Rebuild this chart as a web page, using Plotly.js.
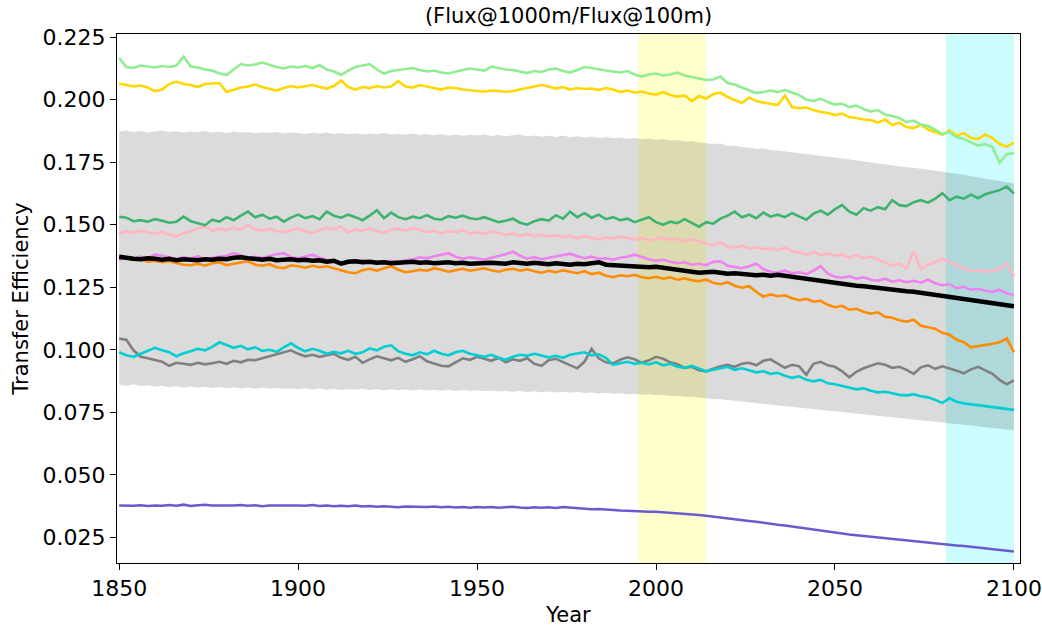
<!DOCTYPE html>
<html>
<head>
<meta charset="utf-8">
<script src="https://cdn.plot.ly/plotly-3.0.1.min.js"></script>
<style>html,body{margin:0;padding:0;background:#fff;}#chart{width:1042px;height:627px;}</style>
</head>
<body>
<div id="chart"></div>
<script>
// x axis: every second year from 1850 to 2100
const years = [];
for (let y = 1850; y <= 2100; y += 2) years.push(y);

// highlighted periods
const presentPeriod = [1995, 2014];
const futurePeriod = [2081, 2100];

// ensemble spread (lower / upper edge)
const spreadLow = [
.0860,.0856,.0862,.0855,.0858,.0852,.0856,.0850,.0854,.0849,
.0853,.0848,.0852,.0847,.0851,.0846,.0850,.0845,.0849,.0844,
.0848,.0844,.0847,.0843,.0846,.0842,.0846,.0841,.0845,.0840,
.0844,.0839,.0843,.0840,.0844,.0839,.0843,.0838,.0842,.0838,
.0842,.0837,.0841,.0837,.0840,.0836,.0840,.0835,.0839,.0835,
.0838,.0834,.0837,.0833,.0836,.0832,.0835,.0831,.0834,.0830,
.0833,.0829,.0832,.0828,.0831,.0827,.0829,.0825,.0828,.0824,
.0826,.0822,.0824,.0820,.0822,.0818,.0819,.0815,.0816,.0812,
.0812,.0808,.0807,.0803,.0802,.0798,.0796,.0793,.0790,.0787,
.0785,.0781,.0779,.0775,.0773,.0769,.0767,.0763,.0761,.0757,
.0755,.0752,.0750,.0746,.0744,.0740,.0738,.0734,.0732,.0728,
.0726,.0723,.0720,.0717,.0715,.0711,.0708,.0704,.0701,.0697,
.0694,.0690,.0687,.0684,.0681,.0678];
const spreadHigh = [
.1872,.1876,.1870,.1874,.1868,.1872,.1876,.1870,.1873,.1868,
.1872,.1869,.1874,.1868,.1871,.1866,.1872,.1868,.1870,.1865,
.1869,.1866,.1870,.1864,.1868,.1866,.1862,.1867,.1864,.1868,
.1862,.1866,.1861,.1865,.1860,.1864,.1861,.1866,.1860,.1863,
.1859,.1864,.1858,.1862,.1857,.1861,.1856,.1860,.1855,.1859,
.1856,.1860,.1854,.1858,.1853,.1857,.1860,.1852,.1856,.1851,
.1855,.1850,.1856,.1849,.1853,.1848,.1852,.1846,.1850,.1845,
.1848,.1843,.1846,.1841,.1844,.1839,.1842,.1836,.1838,.1832,
.1834,.1828,.1826,.1822,.1824,.1814,.1816,.1810,.1808,.1802,
.1804,.1798,.1796,.1792,.1790,.1784,.1782,.1778,.1774,.1771,
.1768,.1764,.1760,.1756,.1752,.1748,.1745,.1740,.1738,.1734,
.1730,.1728,.1724,.1722,.1718,.1714,.1710,.1704,.1700,.1694,
.1690,.1686,.1680,.1675,.1670,.1666];

const slateblue = [
.0378,.0376,.0377,.0379,.0376,.0378,.0377,.0380,.0377,.0381,
.0376,.0379,.0381,.0378,.0377,.0379,.0378,.0380,.0377,.0379,
.0375,.0378,.0377,.0379,.0378,.0378,.0377,.0380,.0376,.0378,
.0375,.0377,.0375,.0378,.0374,.0376,.0373,.0375,.0374,.0371,
.0374,.0373,.0375,.0372,.0374,.0371,.0373,.0370,.0372,.0369,
.0372,.0370,.0372,.0369,.0371,.0373,.0370,.0368,.0371,.0369,
.0371,.0368,.0372,.0369,.0366,.0365,.0363,.0364,.0361,.0360,
.0358,.0357,.0355,.0354,.0353,.0353,.0351,.0350,.0348,.0346,
.0344,.0340,.0337,.0333,.0330,.0327,.0324,.0320,.0316,.0313,
.0308,.0305,.0301,.0298,.0294,.0290,.0287,.0282,.0276,.0274,
.0270,.0266,.0262,.0259,.0256,.0252,.0249,.0246,.0244,.0241,
.0238,.0235,.0233,.0230,.0227,.0224,.0221,.0218,.0216,.0213,
.0210,.0207,.0205,.0202,.0198,.0194];

const grey = [
.1044,.1040,.0998,.0972,.0966,.0960,.0952,.0936,.0948,.0944,
.0940,.0948,.0942,.0946,.0952,.0944,.0956,.0950,.0960,.0958,
.0966,.0972,.0980,.0988,.0998,.0984,.0974,.0980,.0972,.0978,
.0984,.0968,.0960,.0972,.0948,.0962,.0974,.0966,.0958,.0968,
.0952,.0962,.0974,.0954,.0944,.0936,.0934,.0950,.0966,.0960,
.0972,.0964,.0956,.0968,.0950,.0962,.0956,.0966,.0944,.0936,
.0958,.0964,.0952,.0940,.0926,.0952,.1004,.0966,.0950,.0946,
.0960,.0970,.0962,.0948,.0958,.0972,.0964,.0950,.0942,.0928,
.0932,.0918,.0914,.0924,.0934,.0940,.0932,.0944,.0948,.0938,
.0956,.0962,.0944,.0928,.0940,.0934,.0900,.0944,.0952,.0938,
.0932,.0914,.0890,.0912,.0926,.0936,.0946,.0940,.0928,.0932,
.0920,.0904,.0930,.0938,.0924,.0934,.0926,.0916,.0906,.0922,
.0932,.0918,.0904,.0880,.0862,.0878];

const turquoise = [
.0990,.0978,.0972,.0984,.0996,.1008,.0998,.0990,.0974,.0986,
.0994,.1004,.0998,.1012,.1030,.1020,.1008,.1016,.1002,.1010,
.0996,.1000,.0992,.1010,.1026,.1008,.0994,.1004,.0996,.0984,
.0992,.0986,.0996,.0984,.0990,.1006,.0998,.1012,.1018,.0994,
.0984,.0978,.0990,.0982,.0996,.0984,.0978,.0990,.0996,.0984,
.0978,.0972,.0980,.0968,.0960,.0972,.0980,.0976,.0984,.0978,
.0970,.0976,.0968,.0980,.0986,.0990,.0978,.0982,.0968,.0940,
.0946,.0952,.0944,.0948,.0942,.0950,.0938,.0944,.0932,.0928,
.0936,.0924,.0914,.0920,.0926,.0932,.0920,.0926,.0918,.0910,
.0914,.0904,.0908,.0896,.0888,.0894,.0880,.0874,.0880,.0866,
.0862,.0856,.0850,.0842,.0846,.0836,.0830,.0832,.0826,.0820,
.0818,.0822,.0814,.0810,.0800,.0788,.0806,.0792,.0786,.0782,
.0778,.0774,.0770,.0766,.0762,.0760];

const orange = [
.1370,.1366,.1360,.1364,.1352,.1356,.1350,.1354,.1346,.1340,
.1338,.1344,.1336,.1346,.1350,.1338,.1344,.1348,.1354,.1340,
.1336,.1342,.1330,.1326,.1338,.1334,.1328,.1336,.1330,.1334,
.1326,.1320,.1310,.1306,.1318,.1324,.1316,.1326,.1334,.1320,
.1310,.1314,.1320,.1316,.1326,.1320,.1312,.1318,.1324,.1316,
.1320,.1326,.1318,.1312,.1320,.1324,.1316,.1322,.1314,.1308,
.1316,.1310,.1318,.1312,.1306,.1314,.1302,.1308,.1296,.1290,
.1298,.1294,.1300,.1290,.1286,.1292,.1284,.1290,.1280,.1286,
.1278,.1274,.1280,.1268,.1262,.1270,.1256,.1248,.1254,.1232,
.1212,.1222,.1214,.1218,.1206,.1198,.1204,.1192,.1196,.1180,
.1170,.1176,.1160,.1164,.1152,.1144,.1150,.1132,.1128,.1118,
.1112,.1120,.1096,.1090,.1084,.1068,.1060,.1040,.1030,.1010,
.1014,.1020,.1024,.1030,.1046,.0990];

const violet = [
.1360,.1368,.1364,.1372,.1366,.1380,.1376,.1368,.1362,.1370,
.1364,.1374,.1360,.1368,.1372,.1376,.1386,.1378,.1366,.1372,
.1368,.1376,.1382,.1386,.1370,.1366,.1374,.1380,.1368,.1360,
.1356,.1350,.1356,.1352,.1358,.1350,.1354,.1348,.1356,.1352,
.1358,.1362,.1370,.1366,.1374,.1380,.1386,.1372,.1364,.1370,
.1366,.1360,.1368,.1374,.1382,.1392,.1376,.1364,.1370,.1362,
.1368,.1374,.1378,.1384,.1374,.1366,.1372,.1364,.1366,.1360,
.1368,.1372,.1380,.1370,.1362,.1356,.1360,.1352,.1346,.1350,
.1340,.1344,.1338,.1352,.1354,.1336,.1330,.1326,.1334,.1344,
.1322,.1312,.1308,.1316,.1306,.1310,.1302,.1316,.1334,.1304,
.1292,.1288,.1294,.1284,.1290,.1280,.1276,.1284,.1272,.1278,
.1270,.1276,.1268,.1280,.1266,.1258,.1262,.1246,.1252,.1240,
.1244,.1236,.1232,.1240,.1226,.1218];

const pink = [
.1466,.1474,.1468,.1476,.1470,.1464,.1472,.1460,.1452,.1466,
.1474,.1486,.1492,.1476,.1484,.1478,.1488,.1480,.1498,.1482,
.1476,.1484,.1474,.1470,.1478,.1486,.1474,.1466,.1478,.1488,
.1482,.1492,.1470,.1480,.1476,.1486,.1474,.1468,.1480,.1484,
.1476,.1488,.1480,.1470,.1476,.1466,.1474,.1470,.1478,.1464,
.1470,.1462,.1474,.1468,.1458,.1466,.1456,.1462,.1454,.1460,
.1452,.1458,.1450,.1456,.1446,.1454,.1448,.1440,.1450,.1444,
.1452,.1446,.1440,.1448,.1436,.1444,.1448,.1438,.1444,.1434,
.1442,.1436,.1424,.1418,.1428,.1414,.1408,.1416,.1404,.1410,
.1402,.1406,.1398,.1408,.1394,.1390,.1380,.1392,.1378,.1384,
.1376,.1380,.1368,.1378,.1366,.1372,.1360,.1350,.1336,.1344,
.1326,.1394,.1322,.1340,.1350,.1364,.1350,.1338,.1326,.1314,
.1318,.1312,.1316,.1322,.1346,.1294];

const seagreen = [
.1532,.1528,.1514,.1518,.1512,.1522,.1516,.1508,.1512,.1532,
.1514,.1506,.1498,.1520,.1512,.1530,.1518,.1536,.1552,.1530,
.1540,.1524,.1532,.1512,.1528,.1540,.1526,.1534,.1522,.1552,
.1536,.1528,.1540,.1530,.1518,.1536,.1558,.1526,.1548,.1530,
.1522,.1532,.1526,.1538,.1524,.1520,.1534,.1528,.1536,.1526,
.1522,.1530,.1520,.1510,.1516,.1524,.1508,.1500,.1514,.1522,
.1516,.1538,.1524,.1552,.1530,.1546,.1528,.1540,.1522,.1530,
.1518,.1524,.1510,.1520,.1530,.1510,.1500,.1512,.1506,.1522,
.1508,.1492,.1510,.1504,.1524,.1536,.1552,.1530,.1540,.1526,
.1548,.1532,.1540,.1530,.1546,.1534,.1520,.1544,.1556,.1540,
.1562,.1578,.1552,.1540,.1566,.1556,.1570,.1562,.1598,.1578,
.1574,.1590,.1598,.1588,.1604,.1626,.1598,.1612,.1604,.1620,
.1606,.1622,.1630,.1638,.1652,.1624];

const gold = [
.2064,.2058,.2052,.2056,.2048,.2034,.2040,.2062,.2072,.2062,
.2058,.2050,.2062,.2064,.2066,.2030,.2040,.2048,.2052,.2060,
.2050,.2044,.2036,.2046,.2054,.2048,.2052,.2058,.2050,.2044,
.2054,.2076,.2050,.2040,.2050,.2046,.2054,.2048,.2052,.2074,
.2052,.2048,.2058,.2052,.2044,.2040,.2048,.2046,.2040,.2036,
.2034,.2032,.2036,.2034,.2030,.2034,.2040,.2044,.2052,.2058,
.2052,.2044,.2050,.2040,.2046,.2042,.2044,.2038,.2046,.2040,
.2030,.2036,.2028,.2032,.2024,.2020,.2030,.2018,.2012,.2016,
.1994,.2014,.2004,.2022,.2028,.2010,.1998,.1986,.2008,.1994,
.1988,.1982,.1978,.2016,.1970,.1966,.1968,.1958,.1950,.1946,
.1938,.1944,.1930,.1926,.1920,.1918,.1908,.1920,.1898,.1908,
.1890,.1886,.1900,.1880,.1870,.1860,.1876,.1856,.1866,.1846,
.1842,.1860,.1846,.1822,.1812,.1828];

const lightgreen = [
.2166,.2130,.2126,.2136,.2132,.2128,.2134,.2130,.2136,.2172,
.2132,.2128,.2120,.2116,.2104,.2098,.2120,.2142,.2136,.2140,
.2148,.2138,.2130,.2124,.2132,.2128,.2134,.2126,.2138,.2120,
.2112,.2098,.2116,.2130,.2136,.2142,.2120,.2104,.2114,.2118,
.2122,.2126,.2118,.2112,.2116,.2108,.2104,.2112,.2118,.2124,
.2120,.2116,.2132,.2126,.2120,.2118,.2112,.2106,.2114,.2110,
.2120,.2124,.2114,.2108,.2118,.2130,.2126,.2120,.2116,.2112,
.2108,.2114,.2100,.2092,.2100,.2104,.2096,.2100,.2108,.2096,
.2090,.2086,.2078,.2080,.2092,.2066,.2060,.2048,.2038,.2026,
.2030,.2036,.2030,.2038,.2028,.2018,.2000,.1994,.2004,.1990,
.1980,.1984,.1970,.1976,.1962,.1952,.1958,.1940,.1934,.1926,
.1910,.1916,.1900,.1894,.1880,.1862,.1870,.1850,.1842,.1830,
.1816,.1822,.1810,.1748,.1782,.1786];

const ensembleMean = [
.1372,.1366,.1364,.1362,.1366,.1364,.1360,.1364,.1358,.1362,
.1360,.1358,.1362,.1360,.1364,.1362,.1368,.1370,.1366,.1362,
.1360,.1364,.1358,.1360,.1362,.1358,.1360,.1356,.1358,.1352,
.1356,.1344,.1352,.1354,.1350,.1352,.1348,.1350,.1346,.1348,
.1350,.1352,.1348,.1350,.1346,.1348,.1350,.1346,.1348,.1344,
.1346,.1350,.1348,.1346,.1344,.1350,.1346,.1344,.1348,.1344,
.1342,.1346,.1344,.1340,.1344,.1342,.1346,.1350,.1340,.1338,
.1336,.1334,.1336,.1332,.1330,.1332,.1328,.1326,.1322,.1316,
.1312,.1308,.1310,.1312,.1308,.1304,.1306,.1302,.1300,.1298,
.1300,.1296,.1300,.1296,.1288,.1284,.1280,.1276,.1274,.1270,
.1266,.1262,.1260,.1256,.1254,.1250,.1248,.1244,.1242,.1238,
.1234,.1232,.1228,.1226,.1220,.1216,.1214,.1208,.1204,.1200,
.1196,.1194,.1188,.1186,.1180,.1174];

const modelSeries = [
  {y: slateblue, color: '#6a5acd'},
  {y: grey, color: '#808080'},
  {y: turquoise, color: '#00ced1'},
  {y: orange, color: '#ff8c00'},
  {y: violet, color: '#ee82ee'},
  {y: pink, color: '#ffb6c1'},
  {y: seagreen, color: '#3cb371'},
  {y: gold, color: '#ffd700'},
  {y: lightgreen, color: '#90ee90'}
];

const FONT = 'DejaVu Sans, sans-serif';
const traces = [];
traces.push({x: years, y: spreadLow, mode: 'lines', line: {width: 0, color: 'rgba(0,0,0,0)'}, hoverinfo: 'skip', showlegend: false});
traces.push({x: years, y: spreadHigh, mode: 'lines', line: {width: 0, color: 'rgba(0,0,0,0)'}, fill: 'tonexty', fillcolor: 'rgba(0,0,0,0.14)', hoverinfo: 'skip', showlegend: false});
modelSeries.forEach(s => traces.push({x: years, y: s.y, mode: 'lines', line: {color: s.color, width: 2.6}, showlegend: false}));
traces.push({x: years, y: ensembleMean, mode: 'lines', line: {color: '#000000', width: 4.5}, showlegend: false});

const layout = {
  width: 1042, height: 627,
  margin: {l: 117, r: 22, t: 34, b: 64},
  paper_bgcolor: '#ffffff', plot_bgcolor: '#ffffff',
  font: {family: FONT, size: 21, color: '#000'},
  showlegend: false,
  title: {text: '(Flux@1000m/Flux@100m)', font: {family: FONT, size: 21, color: '#000'}, x: 0.5, xref: 'paper', y: 0.975, yref: 'container', yanchor: 'middle'},
  xaxis: {
    range: [1849.4, 2101.7], tickvals: [1850, 1900, 1950, 2000, 2050, 2100],
    showgrid: false, zeroline: false, showline: true, mirror: true, linecolor: '#000', linewidth: 1,
    ticks: 'outside', ticklen: 6, tickcolor: '#000', tickfont: {family: FONT, size: 22},
    title: {text: 'Year', font: {family: FONT, size: 21}, standoff: 6}
  },
  yaxis: {
    range: [0.0148, 0.2262], tickvals: [0.025, 0.05, 0.075, 0.1, 0.125, 0.15, 0.175, 0.2, 0.225], tickformat: '.3f',
    showgrid: false, zeroline: false, showline: true, mirror: true, linecolor: '#000', linewidth: 1,
    ticks: 'outside', ticklen: 6, tickcolor: '#000', tickfont: {family: FONT, size: 22},
    title: {text: 'Transfer Efficiency', font: {family: FONT, size: 21}, standoff: 8}
  },
  shapes: [
    {type: 'rect', xref: 'x', yref: 'paper', x0: presentPeriod[0], x1: presentPeriod[1], y0: 0, y1: 1, fillcolor: 'rgba(255,255,0,0.2)', line: {width: 0}, layer: 'below'},
    {type: 'rect', xref: 'x', yref: 'paper', x0: futurePeriod[0], x1: futurePeriod[1], y0: 0, y1: 1, fillcolor: 'rgba(0,240,250,0.2)', line: {width: 0}, layer: 'below'}
  ]
};

Plotly.newPlot('chart', traces, layout, {displayModeBar: false, staticPlot: true});
</script>
</body>
</html>
